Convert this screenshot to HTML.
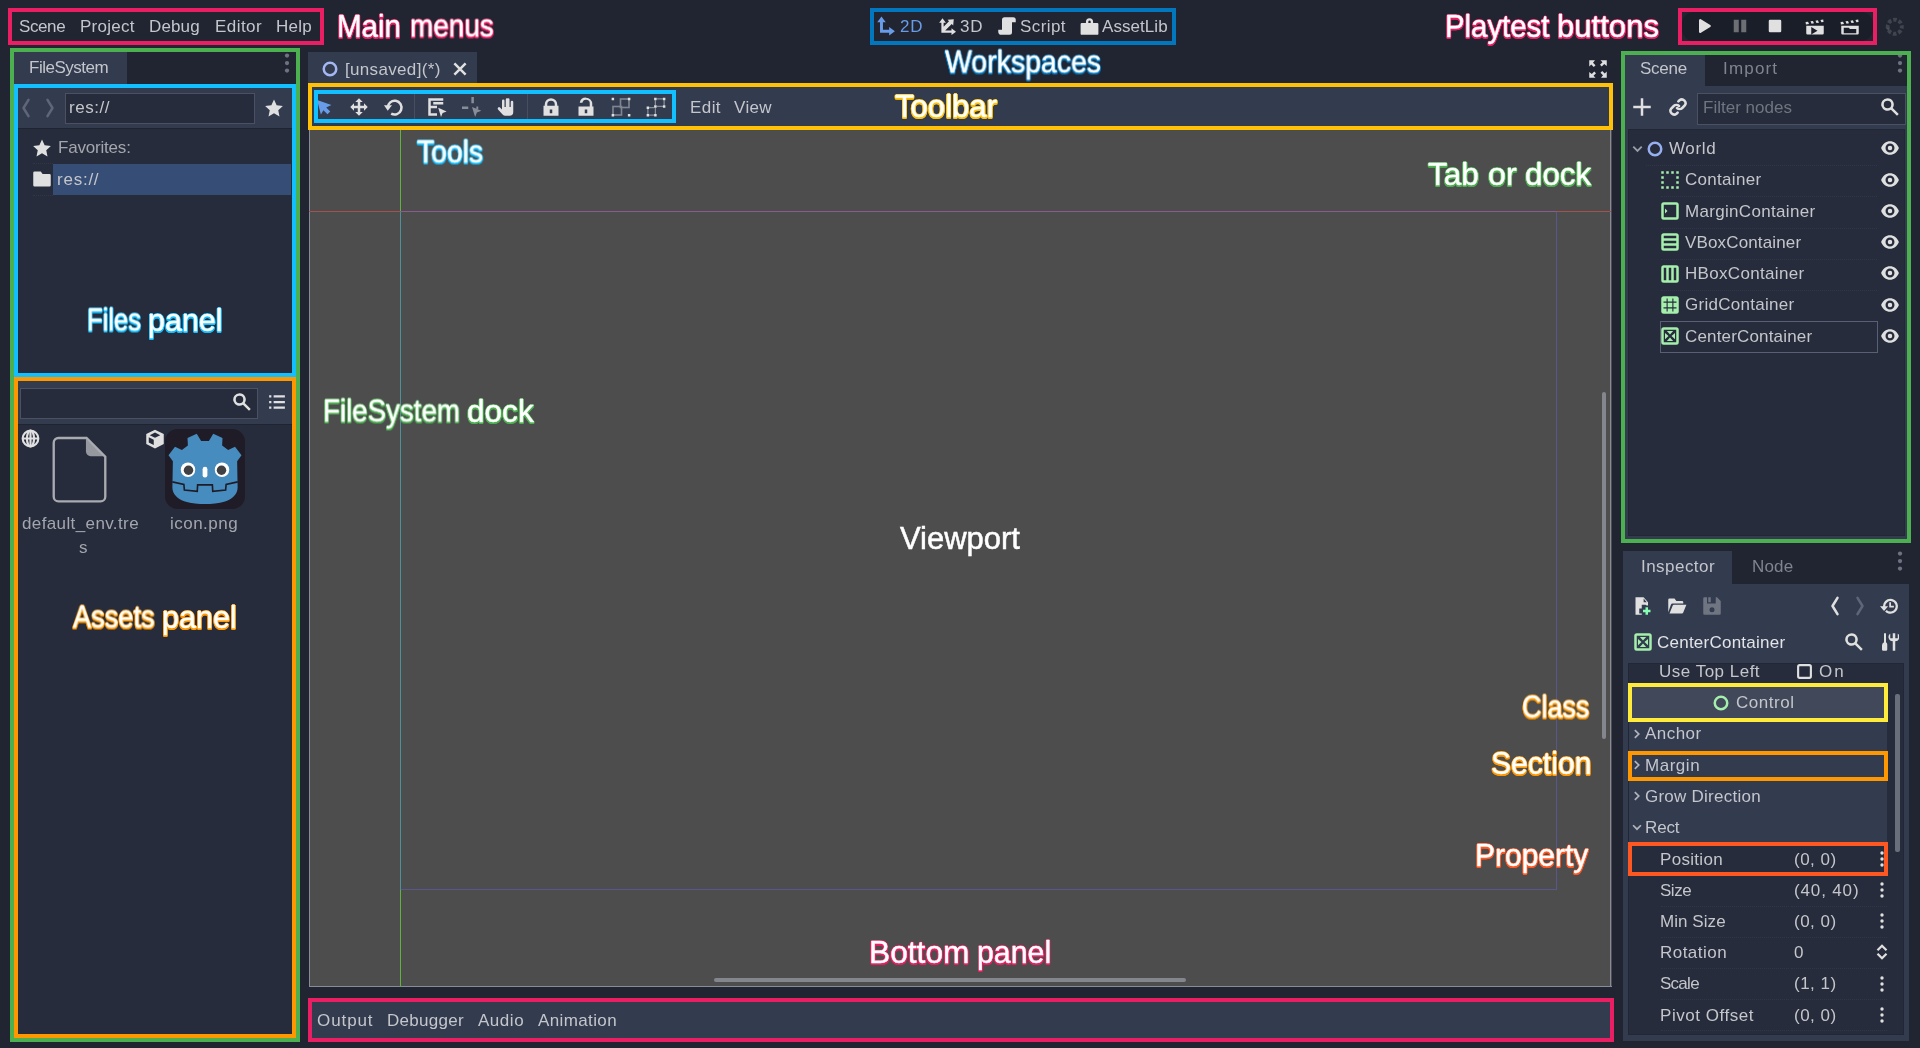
<!DOCTYPE html><html><head><meta charset="utf-8"><title>Godot editor interface</title><style>
html,body{margin:0;padding:0;background:#202531;}
body{width:1920px;height:1048px;position:relative;overflow:hidden;font-family:"Liberation Sans",sans-serif;}
body>div,body>span,body>svg{position:absolute;box-sizing:content-box;}
.tx{white-space:nowrap;display:block;will-change:transform;}
.an{transform:scaleY(1.08);}
#t1{letter-spacing:-0.401px}
#t2{letter-spacing:0.280px}
#t3{letter-spacing:0.123px}
#t4{letter-spacing:0.436px}
#t5{letter-spacing:0.210px}
#t6{transform:scale(1.0181,1.08);transform-origin:0 50%}
#t7{transform:scale(0.9627,1.08);transform-origin:0 50%}
#t8{letter-spacing:0.866px}
#t9{letter-spacing:0.866px}
#t10{letter-spacing:0.426px}
#t11{letter-spacing:0.057px}
#t12{transform:scale(0.9809,1.08);transform-origin:0 50%}
#t13{transform:scale(1.0119,1.08);transform-origin:0 50%}
#t14{transform:scale(1.0721,1.08);transform-origin:0 50%}
#t15{letter-spacing:-0.498px}
#t16{letter-spacing:0.561px}
#t17{letter-spacing:-0.193px}
#t18{letter-spacing:0.761px}
#t19{transform:scale(0.8819,1.08);transform-origin:0 50%}
#t20{transform:scale(1.0512,1.08);transform-origin:0 50%}
#t21{letter-spacing:0.384px}
#t22{letter-spacing:0.100px}
#t23{letter-spacing:0.474px}
#t24{transform:scale(0.9387,1.08);transform-origin:0 50%}
#t25{transform:scale(1.0554,1.08);transform-origin:0 50%}
#t26{letter-spacing:0.330px}
#t27{letter-spacing:0.434px}
#t28{letter-spacing:0.351px}
#t29{transform:scale(1.0723,1.08);transform-origin:0 50%}
#t30{transform:scale(0.9748,1.08);transform-origin:0 50%}
#t31{transform:scale(1.0884,1.08);transform-origin:0 50%}
#t32{transform:scale(1.1087,1.08);transform-origin:0 50%}
#t33{transform:scale(1.0789,1.08);transform-origin:0 50%}
#t34{transform:scale(0.9545,1.08);transform-origin:0 50%}
#t35{transform:scale(1.0887,1.08);transform-origin:0 50%}
#t36{letter-spacing:-0.009px}
#t37{transform:scale(0.9281,1.08);transform-origin:0 50%}
#t38{transform:scale(1.0379,1.08);transform-origin:0 50%}
#t39{transform:scale(1.0337,1.08);transform-origin:0 50%}
#t40{transform:scale(1.0939,1.08);transform-origin:0 50%}
#t41{transform:scale(1.0455,1.08);transform-origin:0 50%}
#t42{letter-spacing:0.911px}
#t43{letter-spacing:0.275px}
#t44{letter-spacing:0.529px}
#t45{letter-spacing:0.374px}
#t46{letter-spacing:-0.276px}
#t47{letter-spacing:1.182px}
#t48{letter-spacing:0.007px}
#t49{letter-spacing:0.627px}
#t50{letter-spacing:0.298px}
#t51{letter-spacing:0.315px}
#t52{letter-spacing:0.146px}
#t53{letter-spacing:0.318px}
#t54{letter-spacing:0.273px}
#t55{letter-spacing:0.168px}
#t56{letter-spacing:0.458px}
#t57{letter-spacing:0.153px}
#t58{letter-spacing:0.239px}
#t59{letter-spacing:0.496px}
#t60{letter-spacing:1.912px}
#t61{letter-spacing:0.445px}
#t62{letter-spacing:0.526px}
#t63{letter-spacing:0.244px}
#t64{letter-spacing:-0.123px}
#t65{letter-spacing:0.548px}
#t66{letter-spacing:0.302px}
#t67{letter-spacing:0.482px}
#t68{letter-spacing:-0.493px}
#t69{letter-spacing:0.858px}
#t70{letter-spacing:0.059px}
#t71{letter-spacing:0.482px}
#t72{letter-spacing:0.467px}
#t73{letter-spacing:1.131px}
#t74{letter-spacing:-0.733px}
#t75{letter-spacing:0.482px}
#t76{letter-spacing:0.549px}
#t77{letter-spacing:0.482px}
</style></head><body>
<span id="t1" class="tx " style="left:19.2px;top:15.7px;line-height:22px;font-size:17px;color:#c4c6cb;font-weight:normal;">Scene</span>
<span id="t2" class="tx " style="left:80.2px;top:15.7px;line-height:22px;font-size:17px;color:#c4c6cb;font-weight:normal;">Project</span>
<span id="t3" class="tx " style="left:149.2px;top:15.7px;line-height:22px;font-size:17px;color:#c4c6cb;font-weight:normal;">Debug</span>
<span id="t4" class="tx " style="left:215.2px;top:15.7px;line-height:22px;font-size:17px;color:#c4c6cb;font-weight:normal;">Editor</span>
<span id="t5" class="tx " style="left:276.2px;top:15.7px;line-height:22px;font-size:17px;color:#c4c6cb;font-weight:normal;">Help</span>
<div style="left:8px;top:8px;width:308px;height:29px;border:4px solid #e91e63;"></div>
<span id="t6" class="tx an" style="left:336.7px;top:7.0px;line-height:38px;font-size:29px;color:#fff;font-weight:normal;text-shadow:0 2px 0 #e91e63,0 1px 0 #e91e63,1px 1px 0 #e91e63,-1px 1px 0 #e91e63,1px 0 0 #e91e63,-1px 0 0 #e91e63,0 -1px 0 #e91e63,0.700px 1.700px 0 #e91e63,-0.700px 1.700px 0 #e91e63;-webkit-text-stroke:0.4px #fff;">Main</span>
<span id="t7" class="tx an" style="left:409.6px;top:7.0px;line-height:38px;font-size:29px;color:#fff;font-weight:normal;text-shadow:0 2px 0 #e91e63,0 1px 0 #e91e63,1px 1px 0 #e91e63,-1px 1px 0 #e91e63,1px 0 0 #e91e63,-1px 0 0 #e91e63,0 -1px 0 #e91e63,0.700px 1.700px 0 #e91e63,-0.700px 1.700px 0 #e91e63;-webkit-text-stroke:0.4px #fff;">menus</span>
<svg style="left:876.25px;top:16.25px;width:19.5px;height:19.5px;color:#699ce8;" viewBox="0 0 16 16" fill="currentColor"><path d="M4.500 0.500L1 5.200h2.300v8.500h7.500V16l4.700-3.500-4.700-3.500v2.300H5.700V5.200H8z"/></svg>
<span id="t8" class="tx " style="left:900.2px;top:15.7px;line-height:22px;font-size:17px;color:#699ce8;font-weight:normal;">2D</span>
<svg style="left:937.995px;top:16.994999999999997px;width:18.01px;height:18.01px;color:#e0e0e0;" viewBox="0 0 16 16" fill="currentColor"><path d="M4 1L1 5h2v9h9v2l4-3-4-3v2H6.400l5.800-5.800L13.500 7.500 14 2 8.500 2.500l1.300 1.300L5 8.600V5h2z"/></svg>
<span id="t9" class="tx " style="left:960.2px;top:15.7px;line-height:22px;font-size:17px;color:#c4c6cb;font-weight:normal;">3D</span>
<svg style="left:997.0px;top:16.0px;width:20px;height:20px;color:#e0e0e0;" viewBox="0 0 16 16" fill="currentColor"><path d="M6 1a2 2 0 0 0-2 2v8H1v1.500A2.500 2.500 0 0 0 3.500 15H10a2 2 0 0 0 2-2V5h3V3a2 2 0 0 0-2-2z"/></svg>
<span id="t10" class="tx " style="left:1020.2px;top:15.7px;line-height:22px;font-size:17px;color:#c4c6cb;font-weight:normal;">Script</span>
<svg style="left:1079.5px;top:16.5px;width:19px;height:19px;color:#e0e0e0;" viewBox="0 0 16 16" fill="currentColor"><path d="M8 1a3 3 0 0 0-3 3v1H1.500a1 1 0 0 0-1 1v8a1 1 0 0 0 1 1h13a1 1 0 0 0 1-1V6a1 1 0 0 0-1-1H11V4a3 3 0 0 0-3-3zm0 2a1 1 0 0 1 1 1v1H7V4a1 1 0 0 1 1-1z" fill-rule="evenodd"/></svg>
<span id="t11" class="tx " style="left:1102.2px;top:15.7px;line-height:22px;font-size:17px;color:#c4c6cb;font-weight:normal;">AssetLib</span>
<div style="left:870px;top:8px;width:298px;height:29px;border:4px solid #0277bd;"></div>
<span id="t12" class="tx an" style="left:945px;top:43.0px;line-height:38px;font-size:29px;color:#fff;font-weight:normal;text-shadow:0 2px 0 #0277bd,0 1px 0 #0277bd,1px 1px 0 #0277bd,-1px 1px 0 #0277bd,1px 0 0 #0277bd,-1px 0 0 #0277bd,0 -1px 0 #0277bd,0.700px 1.700px 0 #0277bd,-0.700px 1.700px 0 #0277bd;-webkit-text-stroke:0.4px #fff;">Workspaces</span>
<div style="left:1682px;top:12px;width:191px;height:29px;background:#1a1e28;border-radius:12px;"></div>
<svg style="left:1693.5px;top:16.3px;width:20px;height:20px;color:#e0e0e0;" viewBox="0 0 16 16" fill="currentColor"><path d="M4 12.5a1 1 0 0 0 1.5.86l7.5-4.5a1 1 0 0 0 0-1.72L5.5 2.64A1 1 0 0 0 4 3.5z"/></svg>
<svg style="left:1730.0px;top:16.3px;width:20px;height:20px;color:#e0e0e0;opacity:0.42;" viewBox="0 0 16 16" fill="currentColor"><path d="M3 3h4v10H3zm6 0h4v10H9z"/></svg>
<svg style="left:1765.0px;top:16.3px;width:20px;height:20px;color:#e0e0e0;" viewBox="0 0 16 16" fill="currentColor"><rect x="3" y="3" width="10" height="10" rx="1"/></svg>
<svg style="left:1805.0px;top:16.5px;width:20px;height:20px;color:#e0e0e0;" viewBox="0 0 16 16" fill="currentColor"><path d="M14.56 2l-2.24.33.82 1.9 1.71-.25zM10.34 2.62l-1.98.29.82 1.9 1.98-.29zM6.38 3.19l-1.98.29.82 1.9 1.98-.29zM2.42 3.77L.45 4.06l.29 1.98 2.5-.37zM1 7v6a1 1 0 0 0 1 1h12a1 1 0 0 0 1-1V7zm4 1l5 3-5 3z" fill-rule="evenodd"/></svg>
<svg style="left:1840.0px;top:16.5px;width:20px;height:20px;color:#e0e0e0;" viewBox="0 0 16 16" fill="currentColor"><path d="M14.56 2l-2.24.33.82 1.9 1.71-.25zM10.34 2.62l-1.98.29.82 1.9 1.98-.29zM6.38 3.19l-1.98.29.82 1.9 1.98-.29zM2.42 3.77L.45 4.06l.29 1.98 2.5-.37zM1 7v6a1 1 0 0 0 1 1h12a1 1 0 0 0 1-1V7zm2 1.500h4l1 1h5V13H3z" fill-rule="evenodd"/></svg>
<svg style="left:1885.05px;top:16.55px;width:19.5px;height:19.5px;color:#e0e0e0;opacity:0.22;" viewBox="0 0 16 16" fill="currentColor"><circle cx="8" cy="8" r="5.800" fill="none" stroke="currentColor" stroke-width="3.200" stroke-dasharray="2.900 1.655" stroke-dashoffset="1.450" opacity=".75"/><path d="M0.800 8.700l3.200 0.300-1.200 2.400z"/></svg>
<div style="left:1678px;top:8px;width:191px;height:29px;border:4px solid #e91e63;"></div>
<span id="t13" class="tx an" style="left:1444.6px;top:6.5px;line-height:38px;font-size:29px;color:#fff;font-weight:normal;text-shadow:0 2px 0 #e91e63,0 1px 0 #e91e63,1px 1px 0 #e91e63,-1px 1px 0 #e91e63,1px 0 0 #e91e63,-1px 0 0 #e91e63,0 -1px 0 #e91e63,0.700px 1.700px 0 #e91e63,-0.700px 1.700px 0 #e91e63;-webkit-text-stroke:0.4px #fff;">Playtest</span>
<span id="t14" class="tx an" style="left:1557px;top:6.5px;line-height:38px;font-size:29px;color:#fff;font-weight:normal;text-shadow:0 2px 0 #e91e63,0 1px 0 #e91e63,1px 1px 0 #e91e63,-1px 1px 0 #e91e63,1px 0 0 #e91e63,-1px 0 0 #e91e63,0 -1px 0 #e91e63,0.700px 1.700px 0 #e91e63,-0.700px 1.700px 0 #e91e63;-webkit-text-stroke:0.4px #fff;">buttons</span>
<div style="left:14px;top:52px;width:113px;height:32px;background:#333b4f;"></div>
<span id="t15" class="tx " style="left:29.2px;top:57.2px;line-height:22px;font-size:17px;color:#c4c6cb;font-weight:normal;">FileSystem</span>
<svg style="left:277.0px;top:52.5px;width:20px;height:20px;color:#6d7383;" viewBox="0 0 16 16" fill="currentColor"><circle cx="8" cy="2" r="1.700"/><circle cx="8" cy="8" r="1.700"/><circle cx="8" cy="14" r="1.700"/></svg>
<div style="left:18px;top:88px;width:274px;height:40px;background:#333b4f;"></div>
<div style="left:18px;top:128px;width:274px;height:246px;background:#262c3b;"></div>
<div style="left:18px;top:127.5px;width:274px;height:1px;background:#1f2431;"></div>
<svg style="left:15.5px;top:97.5px;width:20px;height:20px;color:#5f6679;" viewBox="0 0 16 16" fill="currentColor"><path d="M10 1.500L6 8l4 6.500" fill="none" stroke="currentColor" stroke-width="2" stroke-linecap="round" stroke-linejoin="round"/></svg>
<svg style="left:39.5px;top:97.5px;width:20px;height:20px;color:#5f6679;" viewBox="0 0 16 16" fill="currentColor"><path d="M6 1.500L10 8l-4 6.500" fill="none" stroke="currentColor" stroke-width="2" stroke-linecap="round" stroke-linejoin="round"/></svg>
<div style="left:65px;top:92.5px;width:188px;height:29px;background:#262c3b;border:1px solid #4b5163;"></div>
<span id="t16" class="tx " style="left:69.2px;top:97.2px;line-height:22px;font-size:17px;color:#c4c6cb;font-weight:normal;">res://</span>
<svg style="left:264.0px;top:97.5px;width:20px;height:20px;color:#e0e0e0;" viewBox="0 0 16 16" fill="currentColor"><path d="M8 1.2l2.1 4.6 5 .6-3.7 3.4 1 4.9L8 12.2l-4.4 2.5 1-4.9L.9 6.4l5-.6z"/></svg>
<svg style="left:31.700000000000003px;top:137.5px;width:20px;height:20px;color:#e0e0e0;" viewBox="0 0 16 16" fill="currentColor"><path d="M8 1.2l2.1 4.6 5 .6-3.7 3.4 1 4.9L8 12.2l-4.4 2.5 1-4.9L.9 6.4l5-.6z"/></svg>
<span id="t17" class="tx " style="left:57.900000000000006px;top:137.2px;line-height:22px;font-size:17px;color:#a3a6ae;font-weight:normal;">Favorites:</span>
<div style="left:52.5px;top:164px;width:238px;height:30.5px;background:#364d75;"></div>
<div style="left:33px;top:163px;width:20px;height:0px;border-top:1px dotted #30364a;"></div>
<div style="left:33px;top:194.5px;width:20px;height:0px;border-top:1px dotted #30364a;"></div>
<svg style="left:31.700000000000003px;top:169.3px;width:20px;height:20px;color:#e0e0e0;" viewBox="0 0 16 16" fill="currentColor"><path d="M2 2a1 1 0 0 0-1 1v10a1 1 0 0 0 1 1h12a1 1 0 0 0 1-1V5a1 1 0 0 0-1-1H8.5L7 2z"/></svg>
<span id="t18" class="tx " style="left:56.5px;top:169.0px;line-height:22px;font-size:17px;color:#c4c6cb;font-weight:normal;">res://</span>
<div style="left:14px;top:84px;width:274px;height:285px;border:4px solid #12bfff;"></div>
<span id="t19" class="tx an" style="left:87px;top:300.5px;line-height:38px;font-size:29px;color:#fff;font-weight:normal;text-shadow:0 2px 0 #12bfff,0 1px 0 #12bfff,1px 1px 0 #12bfff,-1px 1px 0 #12bfff,1px 0 0 #12bfff,-1px 0 0 #12bfff,0 -1px 0 #12bfff,0.700px 1.700px 0 #12bfff,-0.700px 1.700px 0 #12bfff;-webkit-text-stroke:0.4px #fff;">Files</span>
<span id="t20" class="tx an" style="left:148.4px;top:300.5px;line-height:38px;font-size:29px;color:#fff;font-weight:normal;text-shadow:0 2px 0 #12bfff,0 1px 0 #12bfff,1px 1px 0 #12bfff,-1px 1px 0 #12bfff,1px 0 0 #12bfff,-1px 0 0 #12bfff,0 -1px 0 #12bfff,0.700px 1.700px 0 #12bfff,-0.700px 1.700px 0 #12bfff;-webkit-text-stroke:0.4px #fff;">panel</span>
<div style="left:18px;top:381px;width:274px;height:43px;background:#333b4f;"></div>
<div style="left:18px;top:424px;width:274px;height:610px;background:#262c3b;"></div>
<div style="left:18px;top:424px;width:274px;height:1px;background:#1f2431;"></div>
<div style="left:20px;top:387.5px;width:236px;height:29px;background:#262c3b;border:1px solid #4b5163;"></div>
<svg style="left:232.3px;top:392.0px;width:20px;height:20px;color:#e0e0e0;" viewBox="0 0 16 16" fill="currentColor"><path d="M6 1a5 5 0 1 0 2.75 9.17L13.6 15 15 13.6l-4.83-4.85A5 5 0 0 0 6 1zm0 2a3 3 0 1 1 0 6 3 3 0 0 1 0-6z" fill-rule="evenodd"/></svg>
<svg style="left:267.995px;top:393.495px;width:18.01px;height:18.01px;color:#e0e0e0;" viewBox="0 0 16 16" fill="currentColor"><path d="M1 2v2h2V2zm4 0v2h10V2zM1 7v2h2V7zm4 0v2h10V7zM1 12v2h2v-2zm4 0v2h10v-2z"/></svg>
<svg style="left:20.5px;top:429.0px;width:19px;height:19px;color:#e0e0e0;" viewBox="0 0 16 16" fill="currentColor"><g fill="none" stroke="currentColor" stroke-width="1.800"><circle cx="8" cy="8" r="6.600"/><ellipse cx="8" cy="8" rx="3" ry="6.600"/><path d="M1.400 8h13.200M8 1.400v13.200"/></g></svg>
<svg style="left:42.3px;top:430.7px;width:75px;height:75px;color:#a9abb0;" viewBox="0 0 64 64" fill="currentColor"><path d="M14 6h24l16 16v34a4 4 0 0 1-4 4H14a4 4 0 0 1-4-4V10a4 4 0 0 1 4-4z" fill="none" stroke="currentColor" stroke-width="2"/><path d="M37.500 6.500v11a4 4 0 0 0 4 4h12z" fill="currentColor" opacity=".85"/></svg>
<svg style="left:145.0px;top:428.5px;width:20px;height:20px;color:#e0e0e0;" viewBox="0 0 16 16" fill="currentColor"><path d="M8 0.500L1 4v8l7 3.500 7-3.500V4zM8 2.800l4.200 2.100L8 7 3.800 4.900zM3 6.600l4 2v4.200l-4-2z" fill-rule="evenodd"/></svg>
<svg style="left:165.0px;top:429.0px;width:80px;height:80px;color:#e0e0e0;" viewBox="0 0 64 64" fill="currentColor"><rect width="64" height="64" rx="10" fill="#1f1c27"/>
<path d="M25.400 3.800L28.900 9.600H35.100L38.600 3.800 46 7.200 45.700 13.100 50.500 16.800 56 14.100 61.200 21 57.700 25.800 58.100 47C58 52 54 56 48 58 43 59.600 37 60 32 60S21 59.600 16 58C10 56 6 52 5.900 47L6.300 25.800 2.800 21 8 14.100 13.500 16.800 18.300 13.100 18 7.200z" fill="#478cbf"/>
<path d="M5.800 42.300L15.100 44.300 15.500 48.800 25.800 49.800 26.100 44.700H37.900L38.200 49.800 48.500 48.800 48.900 44.300 58.200 42.300" fill="none" stroke="#1f1c27" stroke-width="1.3"/>
<circle cx="18.400" cy="32.600" r="5.800" fill="#fff"/><circle cx="18.800" cy="33" r="3.800" fill="#414042"/>
<circle cx="45.600" cy="32.600" r="5.800" fill="#fff"/><circle cx="45.200" cy="33" r="3.800" fill="#414042"/>
<rect x="30.100" y="30.200" width="3.800" height="8.600" rx="1.900" fill="#fff"/></svg>
<span id="t21" class="tx " style="left:22.2px;top:512.7px;line-height:22px;font-size:17px;color:#a3a6ae;font-weight:normal;">default_env.tre</span>
<span id="t22" class="tx " style="left:79.2px;top:536.7px;line-height:22px;font-size:17px;color:#a3a6ae;font-weight:normal;">s</span>
<span id="t23" class="tx " style="left:170.2px;top:512.7px;line-height:22px;font-size:17px;color:#a3a6ae;font-weight:normal;">icon.png</span>
<div style="left:14px;top:377px;width:274px;height:653px;border:4px solid #ff9800;"></div>
<div style="left:10px;top:48px;width:282px;height:986px;border:4px solid #4caf50;"></div>
<span id="t24" class="tx an" style="left:73px;top:597.5px;line-height:38px;font-size:29px;color:#fff;font-weight:normal;text-shadow:0 2px 0 #ff9800,0 1px 0 #ff9800,1px 1px 0 #ff9800,-1px 1px 0 #ff9800,1px 0 0 #ff9800,-1px 0 0 #ff9800,0 -1px 0 #ff9800,0.700px 1.700px 0 #ff9800,-0.700px 1.700px 0 #ff9800;-webkit-text-stroke:0.4px #fff;">Assets</span>
<span id="t25" class="tx an" style="left:161.6px;top:597.5px;line-height:38px;font-size:29px;color:#fff;font-weight:normal;text-shadow:0 2px 0 #ff9800,0 1px 0 #ff9800,1px 1px 0 #ff9800,-1px 1px 0 #ff9800,1px 0 0 #ff9800,-1px 0 0 #ff9800,0 -1px 0 #ff9800,0.700px 1.700px 0 #ff9800,-0.700px 1.700px 0 #ff9800;-webkit-text-stroke:0.4px #fff;">panel</span>
<div style="left:308px;top:52px;width:169px;height:31px;background:#333b4f;"></div>
<svg style="left:320.0px;top:59.0px;width:20px;height:20px;color:#a5b7f3;" viewBox="0 0 16 16" fill="currentColor"><circle cx="8" cy="8" r="5" fill="none" stroke="currentColor" stroke-width="2"/></svg>
<span id="t26" class="tx " style="left:344.5px;top:58.7px;line-height:22px;font-size:17px;color:#c4c6cb;font-weight:normal;">[unsaved](*)</span>
<svg style="left:450.695px;top:59.995px;width:18.01px;height:18.01px;color:#e0e0e0;" viewBox="0 0 16 16" fill="currentColor"><path d="M3 3l10 10M13 3L3 13" fill="none" stroke="currentColor" stroke-width="2.2"/></svg>
<svg style="left:1587.5px;top:59.0px;width:20px;height:20px;color:#e0e0e0;" viewBox="0 0 16 16" fill="currentColor"><path d="M1 1v5l1.6-1.6 2 2L6 5 4 3l1.6-2zM15 1h-5l1.6 1.6-2 2L11 6l2-2 2 1.6zM1 15h5l-1.6-1.6 2-2L5 10l-2 2-2-1.6zM15 15v-5l-1.6 1.6-2-2L10 11l2 2-1.6 2z"/></svg>
<div style="left:312px;top:87px;width:1297px;height:39px;background:#333b4f;"></div>
<div style="left:309px;top:130px;width:1302.5px;height:857.3px;background:#4d4d4d;"></div>
<div style="left:309px;top:130px;width:1px;height:857px;background:#868b97;"></div>
<div style="left:309px;top:986px;width:1302.5px;height:1.3px;background:#868b97;"></div>
<div style="left:1610.4px;top:130px;width:1.1px;height:857.3px;background:#868b97;"></div>
<div style="left:400px;top:130px;width:1.4px;height:857px;background:#62b33c;"></div>
<div style="left:309px;top:211px;width:91px;height:1px;background:#a3524f;"></div>
<div style="left:400px;top:211px;width:1156px;height:1px;background:#8b5a8f;"></div>
<div style="left:1556px;top:211px;width:55px;height:1px;background:#a3524f;"></div>
<div style="left:400px;top:212px;width:1px;height:678px;background:#4f8f9a;"></div>
<div style="left:401px;top:889px;width:1156px;height:1px;background:#57578c;"></div>
<div style="left:1555.5px;top:212px;width:1px;height:678px;background:#57578c;"></div>
<div style="left:714px;top:977.5px;width:472px;height:4px;background:#83868c;border-radius:2px;"></div>
<div style="left:1601.5px;top:392px;width:4.5px;height:347px;background:#83868c;border-radius:2px;"></div>
<svg style="left:316.0px;top:99.0px;width:17px;height:17px;color:#699ce8;" viewBox="0 0 16 16" fill="currentColor"><path d="M1 1l3.600 13.500 2.400-3.900 3.800 3.800 2.600-2.600-3.800-3.800L14.500 5.600z"/></svg>
<svg style="left:348.5px;top:97.0px;width:20px;height:20px;color:#e0e0e0;" viewBox="0 0 16 16" fill="currentColor"><path d="M8 1L5 4h2v3H4V5L1 8l3 3V9h3v3H5l3 3 3-3H9V9h3v2l3-3-3-3v2H9V4h2z"/></svg>
<svg style="left:384.0px;top:97.0px;width:20px;height:20px;color:#e0e0e0;" viewBox="0 0 16 16" fill="currentColor"><path d="M3 8.500a5.500 5.500 0 1 1 2.750 4.760" fill="none" stroke="currentColor" stroke-width="2"/><path d="M0 6.500L3 11l3.400-4.500z"/></svg>
<div style="left:414px;top:94px;width:1px;height:27px;background:#474e61;"></div>
<svg style="left:427.0px;top:97.0px;width:20px;height:20px;color:#e0e0e0;" viewBox="0 0 16 16" fill="currentColor"><path d="M1 1v14h7v-2H3V9h5V7H3V3h10V1zM5 4v2h8V4z" fill-rule="evenodd"/><path d="M9 8.500l2.200 7.500 1.300-3.200 3.200-1.300z"/></svg>
<svg style="left:462.0px;top:97.0px;width:20px;height:20px;color:#e0e0e0;" viewBox="0 0 16 16" fill="currentColor"><path d="M7.500 0v5h2V0zM0 7.500v2h5v-2zm11.500 0v2h1.500v-2z" opacity=".5"/><path d="M8 8l2.500 8 1.400-3.600 3.600-1.400z" opacity=".5"/></svg>
<svg style="left:497.0px;top:97.0px;width:20px;height:20px;color:#e0e0e0;" viewBox="0 0 16 16" fill="currentColor"><path d="M8 1a1 1 0 0 0-1 1v6H6V3a1 1 0 0 0-2 0v7l-1.6-1.6a1.1 1.1 0 0 0-1.6 1.5L4.5 14a3 3 0 0 0 2.3 1H10a3 3 0 0 0 3-3V4a1 1 0 0 0-2 0v4h-1V2a1 1 0 0 0-2 0v6H9V2a1 1 0 0 0-1-1z"/></svg>
<div style="left:527px;top:94px;width:1px;height:27px;background:#474e61;"></div>
<svg style="left:540.5px;top:97.0px;width:20px;height:20px;color:#e0e0e0;" viewBox="0 0 16 16" fill="currentColor"><path d="M8 1a5 5 0 0 0-5 5v1H2v8h12V7h-1V6a5 5 0 0 0-5-5zm0 2a3 3 0 0 1 3 3v1H5V6a3 3 0 0 1 3-3zM7 10h2v3H7z" fill-rule="evenodd"/></svg>
<svg style="left:575.5px;top:97.0px;width:20px;height:20px;color:#e0e0e0;" viewBox="0 0 16 16" fill="currentColor"><path d="M8 0.500a5 5 0 0 0-5 4h2.100A3 3 0 0 1 11 5.500v2H2V15h12V7.500h-1v-2a5 5 0 0 0-5-5zM7 10h2v3H7z" fill-rule="evenodd"/></svg>
<svg style="left:611.0px;top:97.0px;width:20px;height:20px;color:#e0e0e0;" viewBox="0 0 16 16" fill="currentColor"><path d="M0.500 0.500h2v2h-2zM13.500 0.500h2v2h-2zM0.500 13.500h2v2h-2zM13.500 13.500h2v2h-2z"/><g fill="none" stroke="currentColor" stroke-width="1.300" opacity=".45"><rect x="7.600" y="1.600" width="6.800" height="6.800"/><rect x="1.600" y="7.600" width="6.800" height="6.800"/></g></svg>
<svg style="left:646.0px;top:97.0px;width:20px;height:20px;color:#e0e0e0;" viewBox="0 0 16 16" fill="currentColor"><path d="M6.500 0.500h2v2h-2zM13.500 0.500h2v2h-2zM13.500 6.500h2v2h-2zM6.500 6.500h2v2h-2zM0.500 7.500h2v2h-2zM0.500 13.500h2v2h-2zM6.500 13.500h2v2h-2z"/><path d="M8.500 1h5v1h-5zM7 2.500h1v4H7zM14 2.500h1v4h-1zM8.500 7h5v1h-5zM2.500 8h4v1h-4zM1 9.500h1v4H1zM7 8.500h1v5H7zM2.500 14h4v1h-4z" opacity=".5"/></svg>
<div style="left:314px;top:90px;width:354px;height:25px;border:4px solid #12bfff;"></div>
<span id="t27" class="tx " style="left:690.2px;top:96.7px;line-height:22px;font-size:17px;color:#c4c6cb;font-weight:normal;">Edit</span>
<span id="t28" class="tx " style="left:734.2px;top:96.7px;line-height:22px;font-size:17px;color:#c4c6cb;font-weight:normal;">View</span>
<div style="left:308px;top:83px;width:1297px;height:39px;border:4px solid #ffc107;"></div>
<span id="t29" class="tx an" style="left:895px;top:87.0px;line-height:38px;font-size:29px;color:#fff;font-weight:normal;text-shadow:0 2px 0 #ffc107,0 1px 0 #ffc107,1px 1px 0 #ffc107,-1px 1px 0 #ffc107,1px 0 0 #ffc107,-1px 0 0 #ffc107,0 -1px 0 #ffc107,0.700px 1.700px 0 #ffc107,-0.700px 1.700px 0 #ffc107;-webkit-text-stroke:0.4px #fff;">Toolbar</span>
<span id="t30" class="tx an" style="left:417px;top:133.0px;line-height:38px;font-size:29px;color:#fff;font-weight:normal;text-shadow:0 2px 0 #12bfff,0 1px 0 #12bfff,1px 1px 0 #12bfff,-1px 1px 0 #12bfff,1px 0 0 #12bfff,-1px 0 0 #12bfff,0 -1px 0 #12bfff,0.700px 1.700px 0 #12bfff,-0.700px 1.700px 0 #12bfff;-webkit-text-stroke:0.4px #fff;">Tools</span>
<span id="t31" class="tx an" style="left:1428.3px;top:154.5px;line-height:38px;font-size:29px;color:#fff;font-weight:normal;text-shadow:0 2px 0 #4caf50,0 1px 0 #4caf50,1px 1px 0 #4caf50,-1px 1px 0 #4caf50,1px 0 0 #4caf50,-1px 0 0 #4caf50,0 -1px 0 #4caf50,0.700px 1.700px 0 #4caf50,-0.700px 1.700px 0 #4caf50;-webkit-text-stroke:0.4px #fff;">Tab</span>
<span id="t32" class="tx an" style="left:1487.6px;top:154.5px;line-height:38px;font-size:29px;color:#fff;font-weight:normal;text-shadow:0 2px 0 #4caf50,0 1px 0 #4caf50,1px 1px 0 #4caf50,-1px 1px 0 #4caf50,1px 0 0 #4caf50,-1px 0 0 #4caf50,0 -1px 0 #4caf50,0.700px 1.700px 0 #4caf50,-0.700px 1.700px 0 #4caf50;-webkit-text-stroke:0.4px #fff;">or</span>
<span id="t33" class="tx an" style="left:1524.6px;top:154.5px;line-height:38px;font-size:29px;color:#fff;font-weight:normal;text-shadow:0 2px 0 #4caf50,0 1px 0 #4caf50,1px 1px 0 #4caf50,-1px 1px 0 #4caf50,1px 0 0 #4caf50,-1px 0 0 #4caf50,0 -1px 0 #4caf50,0.700px 1.700px 0 #4caf50,-0.700px 1.700px 0 #4caf50;-webkit-text-stroke:0.4px #fff;">dock</span>
<span id="t34" class="tx an" style="left:322.7px;top:391.5px;line-height:38px;font-size:29px;color:#fff;font-weight:normal;text-shadow:0 2px 0 #4caf50,0 1px 0 #4caf50,1px 1px 0 #4caf50,-1px 1px 0 #4caf50,1px 0 0 #4caf50,-1px 0 0 #4caf50,0 -1px 0 #4caf50,0.700px 1.700px 0 #4caf50,-0.700px 1.700px 0 #4caf50;-webkit-text-stroke:0.4px #fff;">FileSystem</span>
<span id="t35" class="tx an" style="left:467px;top:391.5px;line-height:38px;font-size:29px;color:#fff;font-weight:normal;text-shadow:0 2px 0 #4caf50,0 1px 0 #4caf50,1px 1px 0 #4caf50,-1px 1px 0 #4caf50,1px 0 0 #4caf50,-1px 0 0 #4caf50,0 -1px 0 #4caf50,0.700px 1.700px 0 #4caf50,-0.700px 1.700px 0 #4caf50;-webkit-text-stroke:0.4px #fff;">dock</span>
<span id="t36" class="tx " style="left:900px;top:518.5px;line-height:40px;font-size:31px;color:#fff;font-weight:normal;-webkit-text-stroke:0.5px #fff;">Viewport</span>
<span id="t37" class="tx an" style="left:1522px;top:687.5px;line-height:38px;font-size:29px;color:#fff;font-weight:normal;text-shadow:0 2px 0 #ff9800,0 1px 0 #ff9800,1px 1px 0 #ff9800,-1px 1px 0 #ff9800,1px 0 0 #ff9800,-1px 0 0 #ff9800,0 -1px 0 #ff9800,0.700px 1.700px 0 #ff9800,-0.700px 1.700px 0 #ff9800;-webkit-text-stroke:0.4px #fff;">Class</span>
<span id="t38" class="tx an" style="left:1491px;top:744.0px;line-height:38px;font-size:29px;color:#fff;font-weight:normal;text-shadow:0 2px 0 #ff9800,0 1px 0 #ff9800,1px 1px 0 #ff9800,-1px 1px 0 #ff9800,1px 0 0 #ff9800,-1px 0 0 #ff9800,0 -1px 0 #ff9800,0.700px 1.700px 0 #ff9800,-0.700px 1.700px 0 #ff9800;-webkit-text-stroke:0.4px #fff;">Section</span>
<span id="t39" class="tx an" style="left:1475.2px;top:836.0px;line-height:38px;font-size:29px;color:#fff;font-weight:normal;text-shadow:0 2px 0 #ff5722,0 1px 0 #ff5722,1px 1px 0 #ff5722,-1px 1px 0 #ff5722,1px 0 0 #ff5722,-1px 0 0 #ff5722,0 -1px 0 #ff5722,0.700px 1.700px 0 #ff5722,-0.700px 1.700px 0 #ff5722;-webkit-text-stroke:0.4px #fff;">Property</span>
<span id="t40" class="tx an" style="left:868.5px;top:932.5px;line-height:38px;font-size:29px;color:#fff;font-weight:normal;text-shadow:0 2px 0 #e91e63,0 1px 0 #e91e63,1px 1px 0 #e91e63,-1px 1px 0 #e91e63,1px 0 0 #e91e63,-1px 0 0 #e91e63,0 -1px 0 #e91e63,0.700px 1.700px 0 #e91e63,-0.700px 1.700px 0 #e91e63;-webkit-text-stroke:0.4px #fff;">Bottom</span>
<span id="t41" class="tx an" style="left:977.3px;top:932.5px;line-height:38px;font-size:29px;color:#fff;font-weight:normal;text-shadow:0 2px 0 #e91e63,0 1px 0 #e91e63,1px 1px 0 #e91e63,-1px 1px 0 #e91e63,1px 0 0 #e91e63,-1px 0 0 #e91e63,0 -1px 0 #e91e63,0.700px 1.700px 0 #e91e63,-0.700px 1.700px 0 #e91e63;-webkit-text-stroke:0.4px #fff;">panel</span>
<div style="left:312px;top:1002px;width:1298px;height:36px;background:#333b4f;"></div>
<span id="t42" class="tx " style="left:317.2px;top:1009.7px;line-height:22px;font-size:17px;color:#c4c6cb;font-weight:normal;">Output</span>
<span id="t43" class="tx " style="left:387.2px;top:1009.7px;line-height:22px;font-size:17px;color:#c4c6cb;font-weight:normal;">Debugger</span>
<span id="t44" class="tx " style="left:478.2px;top:1009.7px;line-height:22px;font-size:17px;color:#c4c6cb;font-weight:normal;">Audio</span>
<span id="t45" class="tx " style="left:538.2px;top:1009.7px;line-height:22px;font-size:17px;color:#c4c6cb;font-weight:normal;">Animation</span>
<div style="left:308px;top:998px;width:1298px;height:36px;border:4px solid #e91e63;"></div>
<div style="left:1625px;top:55px;width:80px;height:31px;background:#333b4f;"></div>
<div style="left:1625px;top:86px;width:282px;height:453px;background:#333b4f;"></div>
<span id="t46" class="tx " style="left:1640.2px;top:57.5px;line-height:22px;font-size:17px;color:#c4c6cb;font-weight:normal;">Scene</span>
<span id="t47" class="tx " style="left:1723.2px;top:57.5px;line-height:22px;font-size:17px;color:#7f8490;font-weight:normal;">Import</span>
<svg style="left:1890.0px;top:52.5px;width:20px;height:20px;color:#6d7383;" viewBox="0 0 16 16" fill="currentColor"><circle cx="8" cy="2" r="1.700"/><circle cx="8" cy="8" r="1.700"/><circle cx="8" cy="14" r="1.700"/></svg>
<svg style="left:1632.0px;top:97.0px;width:20px;height:20px;color:#e0e0e0;" viewBox="0 0 16 16" fill="currentColor"><path d="M7 1v6H1v2h6v6h2V9h6V7H9V1z"/></svg>
<svg style="left:1667.5px;top:97.0px;width:20px;height:20px;color:#e0e0e0;" viewBox="0 0 16 16" fill="currentColor"><g fill="none" stroke="currentColor" stroke-width="2" stroke-linecap="round"><path d="M7.2 8.8a3 3 0 0 0 4.2 0l2-2a3 3 0 0 0-4.2-4.2l-.9.9"/><path d="M8.8 7.2a3 3 0 0 0-4.2 0l-2 2a3 3 0 0 0 4.2 4.2l.9-.9"/></g></svg>
<div style="left:1697px;top:92.5px;width:207px;height:30px;background:#262c3b;border:1px solid #4b5163;"></div>
<span id="t48" class="tx " style="left:1702.9px;top:97.2px;line-height:22px;font-size:17px;color:#70757f;font-weight:normal;">Filter nodes</span>
<svg style="left:1879.6px;top:97.0px;width:20px;height:20px;color:#e0e0e0;" viewBox="0 0 16 16" fill="currentColor"><path d="M6 1a5 5 0 1 0 2.75 9.17L13.6 15 15 13.6l-4.83-4.85A5 5 0 0 0 6 1zm0 2a3 3 0 1 1 0 6 3 3 0 0 1 0-6z" fill-rule="evenodd"/></svg>
<div style="left:1628px;top:129px;width:275px;height:405px;background:#262c3b;border:1px solid #222736;"></div>
<svg style="left:1629.5px;top:141.0px;width:15px;height:15px;color:#9a9ea8;" viewBox="0 0 16 16" fill="currentColor"><path d="M3.500 6L8 10.500 12.500 6" fill="none" stroke="currentColor" stroke-width="2"/></svg>
<svg style="left:1645.0px;top:138.5px;width:20px;height:20px;color:#96aff0;" viewBox="0 0 16 16" fill="currentColor"><circle cx="8" cy="8" r="5" fill="none" stroke="currentColor" stroke-width="2"/></svg>
<span id="t49" class="tx " style="left:1669.2px;top:138.2px;line-height:22px;font-size:17px;color:#c4c6cb;font-weight:normal;">World</span>
<svg style="left:1880.7949999999998px;top:139.495px;width:18.01px;height:18.01px;color:#e0e0e0;" viewBox="0 0 16 16" fill="currentColor"><path d="M8 2C4.5 2 1.5 4.3.1 8c1.4 3.7 4.4 6 7.9 6s6.5-2.3 7.9-6C14.5 4.3 11.5 2 8 2zm0 2a4 4 0 1 1 0 8 4 4 0 0 1 0-8zm0 2a2 2 0 1 0 0 4 2 2 0 0 0 0-4z" fill-rule="evenodd"/></svg>
<div style="left:1646px;top:165.1px;width:231px;height:0px;border-top:1px dotted #30364a;"></div>
<svg style="left:1660.0px;top:169.75px;width:20px;height:20px;color:#a5efac;" viewBox="0 0 16 16" fill="currentColor"><rect x="2" y="2" width="12" height="12" fill="none" stroke="currentColor" stroke-width="2" stroke-dasharray="2 2" stroke-dashoffset="1"/></svg>
<span id="t50" class="tx " style="left:1684.7px;top:169.45px;line-height:22px;font-size:17px;color:#c4c6cb;font-weight:normal;">Container</span>
<svg style="left:1880.7949999999998px;top:170.745px;width:18.01px;height:18.01px;color:#e0e0e0;" viewBox="0 0 16 16" fill="currentColor"><path d="M8 2C4.5 2 1.5 4.3.1 8c1.4 3.7 4.4 6 7.9 6s6.5-2.3 7.9-6C14.5 4.3 11.5 2 8 2zm0 2a4 4 0 1 1 0 8 4 4 0 0 1 0-8zm0 2a2 2 0 1 0 0 4 2 2 0 0 0 0-4z" fill-rule="evenodd"/></svg>
<div style="left:1661px;top:196.35px;width:216px;height:0px;border-top:1px dotted #30364a;"></div>
<svg style="left:1660.0px;top:201.0px;width:20px;height:20px;color:#a5efac;" viewBox="0 0 16 16" fill="currentColor"><path d="M3 1a2 2 0 0 0-2 2v10a2 2 0 0 0 2 2h10a2 2 0 0 0 2-2V3a2 2 0 0 0-2-2zm0 2h10v10H3zm1 3v4l2-2z" fill-rule="evenodd"/></svg>
<span id="t51" class="tx " style="left:1684.7px;top:200.7px;line-height:22px;font-size:17px;color:#c4c6cb;font-weight:normal;">MarginContainer</span>
<svg style="left:1880.7949999999998px;top:201.995px;width:18.01px;height:18.01px;color:#e0e0e0;" viewBox="0 0 16 16" fill="currentColor"><path d="M8 2C4.5 2 1.5 4.3.1 8c1.4 3.7 4.4 6 7.9 6s6.5-2.3 7.9-6C14.5 4.3 11.5 2 8 2zm0 2a4 4 0 1 1 0 8 4 4 0 0 1 0-8zm0 2a2 2 0 1 0 0 4 2 2 0 0 0 0-4z" fill-rule="evenodd"/></svg>
<div style="left:1661px;top:227.6px;width:216px;height:0px;border-top:1px dotted #30364a;"></div>
<svg style="left:1660.0px;top:232.25px;width:20px;height:20px;color:#a5efac;" viewBox="0 0 16 16" fill="currentColor"><path d="M3 1a2 2 0 0 0-2 2v10a2 2 0 0 0 2 2h10a2 2 0 0 0 2-2V3a2 2 0 0 0-2-2zm0 2h10v2H3zm0 4h10v2H3zm0 4h10v2H3z" fill-rule="evenodd"/></svg>
<span id="t52" class="tx " style="left:1684.7px;top:231.95px;line-height:22px;font-size:17px;color:#c4c6cb;font-weight:normal;">VBoxContainer</span>
<svg style="left:1880.7949999999998px;top:233.245px;width:18.01px;height:18.01px;color:#e0e0e0;" viewBox="0 0 16 16" fill="currentColor"><path d="M8 2C4.5 2 1.5 4.3.1 8c1.4 3.7 4.4 6 7.9 6s6.5-2.3 7.9-6C14.5 4.3 11.5 2 8 2zm0 2a4 4 0 1 1 0 8 4 4 0 0 1 0-8zm0 2a2 2 0 1 0 0 4 2 2 0 0 0 0-4z" fill-rule="evenodd"/></svg>
<div style="left:1661px;top:258.85px;width:216px;height:0px;border-top:1px dotted #30364a;"></div>
<svg style="left:1660.0px;top:263.5px;width:20px;height:20px;color:#a5efac;" viewBox="0 0 16 16" fill="currentColor"><path d="M3 1a2 2 0 0 0-2 2v10a2 2 0 0 0 2 2h10a2 2 0 0 0 2-2V3a2 2 0 0 0-2-2zm0 2h2v10H3zm4 0h2v10H7zm4 0h2v10h-2z" fill-rule="evenodd"/></svg>
<span id="t53" class="tx " style="left:1684.7px;top:263.2px;line-height:22px;font-size:17px;color:#c4c6cb;font-weight:normal;">HBoxContainer</span>
<svg style="left:1880.7949999999998px;top:264.495px;width:18.01px;height:18.01px;color:#e0e0e0;" viewBox="0 0 16 16" fill="currentColor"><path d="M8 2C4.5 2 1.5 4.3.1 8c1.4 3.7 4.4 6 7.9 6s6.5-2.3 7.9-6C14.5 4.3 11.5 2 8 2zm0 2a4 4 0 1 1 0 8 4 4 0 0 1 0-8zm0 2a2 2 0 1 0 0 4 2 2 0 0 0 0-4z" fill-rule="evenodd"/></svg>
<div style="left:1661px;top:290.1px;width:216px;height:0px;border-top:1px dotted #30364a;"></div>
<svg style="left:1660.0px;top:294.75px;width:20px;height:20px;color:#a5efac;" viewBox="0 0 16 16" fill="currentColor"><rect x="1" y="1" width="14" height="14" rx="2"/><path d="M5.700 2.800v10.400M10.300 2.800v10.400M2.800 5.700h10.400M2.800 10.300h10.400" fill="none" stroke="#262c3b" stroke-width="0.900"/></svg>
<span id="t54" class="tx " style="left:1684.7px;top:294.45px;line-height:22px;font-size:17px;color:#c4c6cb;font-weight:normal;">GridContainer</span>
<svg style="left:1880.7949999999998px;top:295.745px;width:18.01px;height:18.01px;color:#e0e0e0;" viewBox="0 0 16 16" fill="currentColor"><path d="M8 2C4.5 2 1.5 4.3.1 8c1.4 3.7 4.4 6 7.9 6s6.5-2.3 7.9-6C14.5 4.3 11.5 2 8 2zm0 2a4 4 0 1 1 0 8 4 4 0 0 1 0-8zm0 2a2 2 0 1 0 0 4 2 2 0 0 0 0-4z" fill-rule="evenodd"/></svg>
<div style="left:1661px;top:321.35px;width:216px;height:0px;border-top:1px dotted #30364a;"></div>
<svg style="left:1660.0px;top:326.0px;width:20px;height:20px;color:#a5efac;" viewBox="0 0 16 16" fill="currentColor"><path d="M3 1a2 2 0 0 0-2 2v10a2 2 0 0 0 2 2h10a2 2 0 0 0 2-2V3a2 2 0 0 0-2-2zm0 2h10v10H3z" fill-rule="evenodd"/><path d="M5.500 4h5L8 6.800zM5.500 12h5L8 9.200zM4 5.500v5L6.800 8zM12 5.500v5L9.200 8z"/></svg>
<span id="t55" class="tx " style="left:1684.7px;top:325.7px;line-height:22px;font-size:17px;color:#c4c6cb;font-weight:normal;">CenterContainer</span>
<svg style="left:1880.7949999999998px;top:326.995px;width:18.01px;height:18.01px;color:#e0e0e0;" viewBox="0 0 16 16" fill="currentColor"><path d="M8 2C4.5 2 1.5 4.3.1 8c1.4 3.7 4.4 6 7.9 6s6.5-2.3 7.9-6C14.5 4.3 11.5 2 8 2zm0 2a4 4 0 1 1 0 8 4 4 0 0 1 0-8zm0 2a2 2 0 1 0 0 4 2 2 0 0 0 0-4z" fill-rule="evenodd"/></svg>
<div style="left:1660px;top:321px;width:216px;height:30px;border:1px solid #596073;"></div>
<div style="left:1621px;top:51px;width:282px;height:484px;border:4px solid #4caf50;"></div>
<div style="left:1622.5px;top:551px;width:109.5px;height:33px;background:#333b4f;"></div>
<div style="left:1622.5px;top:584px;width:286.5px;height:457px;background:#333b4f;"></div>
<span id="t56" class="tx " style="left:1640.5px;top:556.0px;line-height:22px;font-size:17px;color:#c4c6cb;font-weight:normal;">Inspector</span>
<span id="t57" class="tx " style="left:1751.7px;top:556.0px;line-height:22px;font-size:17px;color:#7f8490;font-weight:normal;">Node</span>
<svg style="left:1889.5px;top:551.0px;width:20px;height:20px;color:#6d7383;" viewBox="0 0 16 16" fill="currentColor"><circle cx="8" cy="2" r="1.700"/><circle cx="8" cy="8" r="1.700"/><circle cx="8" cy="14" r="1.700"/></svg>
<svg style="left:1633.0px;top:596.0px;width:20px;height:20px;color:#e0e0e0;" viewBox="0 0 16 16" fill="currentColor"><path d="M2 1v14h5v-1H5v-4h2V7h3l1 .5h1V5L8.500 1zm6.500 1l2.500 3H8.500z" fill-rule="evenodd"/><path d="M10 9v2H8v2h2v2h2v-2h2v-2h-2V9z" fill="#84ffb1"/></svg>
<svg style="left:1667.0px;top:596.0px;width:20px;height:20px;color:#e0e0e0;" viewBox="0 0 16 16" fill="currentColor"><path d="M1 3a1 1 0 0 1 1-1h4l1.500 2H12a1 1 0 0 1 1 1v1H4.500a1.500 1.500 0 0 0-1.400 1L1 13zM2 14l2.600-6.400a1 1 0 0 1 .9-.6H15.500l-2.600 6.400a1 1 0 0 1-.9.6z"/></svg>
<svg style="left:1702.0px;top:596.0px;width:20px;height:20px;color:#e0e0e0;opacity:0.35;" viewBox="0 0 16 16" fill="currentColor"><path d="M2 1a1 1 0 0 0-1 1v12a1 1 0 0 0 1 1h12a1 1 0 0 0 1-1V4l-3-3h-1v5H4V1zm3 0v4h2V1zm3 8a2 2 0 1 1 0 4 2 2 0 0 1 0-4z" fill-rule="evenodd"/></svg>
<svg style="left:1825.0px;top:596.0px;width:20px;height:20px;color:#e0e0e0;" viewBox="0 0 16 16" fill="currentColor"><path d="M10 1.500L6 8l4 6.500" fill="none" stroke="currentColor" stroke-width="2" stroke-linecap="round" stroke-linejoin="round"/></svg>
<svg style="left:1849.5px;top:596.0px;width:20px;height:20px;color:#5f6679;" viewBox="0 0 16 16" fill="currentColor"><path d="M6 1.500L10 8l-4 6.500" fill="none" stroke="currentColor" stroke-width="2" stroke-linecap="round" stroke-linejoin="round"/></svg>
<svg style="left:1880.45px;top:596.75px;width:18.5px;height:18.5px;color:#e0e0e0;" viewBox="0 0 16 16" fill="currentColor"><path d="M9 1.500A6.500 6.500 0 0 0 2.500 8H0l3.500 4L7 8H4.500A4.500 4.500 0 1 1 5.800 11.200l-1.400 1.400A6.500 6.500 0 1 0 9 1.500zM8 4.500V9h4V7.500H9.500v-3z" fill-rule="evenodd"/></svg>
<svg style="left:1632.5px;top:632.0px;width:20px;height:20px;color:#a5efac;" viewBox="0 0 16 16" fill="currentColor"><path d="M3 1a2 2 0 0 0-2 2v10a2 2 0 0 0 2 2h10a2 2 0 0 0 2-2V3a2 2 0 0 0-2-2zm0 2h10v10H3z" fill-rule="evenodd"/><path d="M5.500 4h5L8 6.800zM5.500 12h5L8 9.200zM4 5.500v5L6.800 8zM12 5.500v5L9.200 8z"/></svg>
<span id="t58" class="tx " style="left:1656.7px;top:631.7px;line-height:22px;font-size:17px;color:#e3e4e7;font-weight:normal;">CenterContainer</span>
<svg style="left:1844.0px;top:632.0px;width:20px;height:20px;color:#e0e0e0;" viewBox="0 0 16 16" fill="currentColor"><path d="M6 1a5 5 0 1 0 2.75 9.17L13.6 15 15 13.6l-4.83-4.85A5 5 0 0 0 6 1zm0 2a3 3 0 1 1 0 6 3 3 0 0 1 0-6z" fill-rule="evenodd"/></svg>
<svg style="left:1879.0px;top:632.0px;width:20px;height:20px;color:#e0e0e0;" viewBox="0 0 16 16" fill="currentColor"><path d="M4 1v7.200A2.600 2.600 0 0 0 2.400 10.600V14a1 1 0 0 0 1 1h2.200a1 1 0 0 0 1-1v-3.400A2.600 2.600 0 0 0 5.600 8.200V1zM9 1.100A3.500 3.500 0 0 0 11 7.400V15h2V7.400A3.500 3.500 0 0 0 15 1.100V5h-2V1h-2v4H9z"/></svg>
<div style="left:1627.5px;top:663px;width:274.5px;height:370px;background:#262c3b;border:1px solid #222736;"></div>
<span id="t59" class="tx " style="left:1659.2px;top:660.7px;line-height:22px;font-size:17px;color:#c4c6cb;font-weight:normal;">Use Top Left</span>
<svg style="left:1796.0px;top:662.5px;width:17px;height:17px;color:#e0e0e0;" viewBox="0 0 16 16" fill="currentColor"><rect x="2" y="2" width="12" height="12" rx="1.5" fill="none" stroke="currentColor" stroke-width="2"/></svg>
<span id="t60" class="tx " style="left:1819.2px;top:660.7px;line-height:22px;font-size:17px;color:#c4c6cb;font-weight:normal;">On</span>
<div style="left:1629px;top:717.9px;width:258px;height:31.2px;background:#333b4f;"></div>
<svg style="left:1630.0px;top:726.5px;width:14px;height:14px;color:#b0b3ba;" viewBox="0 0 16 16" fill="currentColor"><path d="M5.500 3.500L10 8l-4.500 4.500" fill="none" stroke="currentColor" stroke-width="2"/></svg>
<span id="t61" class="tx " style="left:1644.7px;top:723.2px;line-height:22px;font-size:17px;color:#c4c6cb;font-weight:normal;">Anchor</span>
<div style="left:1629px;top:749.4px;width:258px;height:31.2px;background:#333b4f;"></div>
<svg style="left:1630.0px;top:758.0px;width:14px;height:14px;color:#b0b3ba;" viewBox="0 0 16 16" fill="currentColor"><path d="M5.500 3.500L10 8l-4.500 4.500" fill="none" stroke="currentColor" stroke-width="2"/></svg>
<span id="t62" class="tx " style="left:1644.7px;top:754.7px;line-height:22px;font-size:17px;color:#c4c6cb;font-weight:normal;">Margin</span>
<div style="left:1629px;top:780.4px;width:258px;height:31.2px;background:#333b4f;"></div>
<svg style="left:1630.0px;top:789.0px;width:14px;height:14px;color:#b0b3ba;" viewBox="0 0 16 16" fill="currentColor"><path d="M5.500 3.500L10 8l-4.500 4.500" fill="none" stroke="currentColor" stroke-width="2"/></svg>
<span id="t63" class="tx " style="left:1644.7px;top:785.7px;line-height:22px;font-size:17px;color:#c4c6cb;font-weight:normal;">Grow Direction</span>
<div style="left:1629px;top:811.6999999999999px;width:258px;height:31.2px;background:#333b4f;"></div>
<svg style="left:1630.0px;top:820.3px;width:14px;height:14px;color:#b0b3ba;" viewBox="0 0 16 16" fill="currentColor"><path d="M3.500 6L8 10.500 12.500 6" fill="none" stroke="currentColor" stroke-width="2"/></svg>
<span id="t64" class="tx " style="left:1644.7px;top:817.0px;line-height:22px;font-size:17px;color:#c4c6cb;font-weight:normal;">Rect</span>
<div style="left:1632px;top:687px;width:252px;height:31px;background:#414859;"></div>
<svg style="left:1711.0px;top:692.5px;width:20px;height:20px;color:#a5efac;" viewBox="0 0 16 16" fill="currentColor"><circle cx="8" cy="8" r="5" fill="none" stroke="currentColor" stroke-width="2"/></svg>
<span id="t65" class="tx " style="left:1735.7px;top:692.2px;line-height:22px;font-size:17px;color:#c4c6cb;font-weight:normal;">Control</span>
<div style="left:1628px;top:683px;width:252px;height:31px;border:4px solid #ffeb3b;"></div>
<div style="left:1628px;top:751px;width:252px;height:22px;border:4px solid #ff9800;"></div>
<span id="t66" class="tx " style="left:1660.2px;top:848.5px;line-height:22px;font-size:17px;color:#c4c6cb;font-weight:normal;">Position</span>
<span id="t67" class="tx " style="left:1794.2px;top:848.5px;line-height:22px;font-size:17px;color:#c4c6cb;font-weight:normal;">(0, 0)</span>
<svg style="left:1873.5px;top:850.8px;width:16px;height:16px;color:#e0e0e0;" viewBox="0 0 16 16" fill="currentColor"><circle cx="8" cy="2" r="1.700"/><circle cx="8" cy="8" r="1.700"/><circle cx="8" cy="14" r="1.700"/></svg>
<span id="t68" class="tx " style="left:1660.2px;top:879.7px;line-height:22px;font-size:17px;color:#c4c6cb;font-weight:normal;">Size</span>
<span id="t69" class="tx " style="left:1794.2px;top:879.7px;line-height:22px;font-size:17px;color:#c4c6cb;font-weight:normal;">(40, 40)</span>
<svg style="left:1873.5px;top:882.0px;width:16px;height:16px;color:#e0e0e0;" viewBox="0 0 16 16" fill="currentColor"><circle cx="8" cy="2" r="1.700"/><circle cx="8" cy="8" r="1.700"/><circle cx="8" cy="14" r="1.700"/></svg>
<div style="left:1661px;top:905.6px;width:128px;height:0px;border-top:1px dotted #30364a;"></div>
<div style="left:1791px;top:905.6px;width:96px;height:0px;border-top:1px dotted #30364a;"></div>
<span id="t70" class="tx " style="left:1660.2px;top:910.9px;line-height:22px;font-size:17px;color:#c4c6cb;font-weight:normal;">Min Size</span>
<span id="t71" class="tx " style="left:1794.2px;top:910.9px;line-height:22px;font-size:17px;color:#c4c6cb;font-weight:normal;">(0, 0)</span>
<svg style="left:1873.5px;top:913.1999999999999px;width:16px;height:16px;color:#e0e0e0;" viewBox="0 0 16 16" fill="currentColor"><circle cx="8" cy="2" r="1.700"/><circle cx="8" cy="8" r="1.700"/><circle cx="8" cy="14" r="1.700"/></svg>
<div style="left:1661px;top:936.8px;width:128px;height:0px;border-top:1px dotted #30364a;"></div>
<div style="left:1791px;top:936.8px;width:96px;height:0px;border-top:1px dotted #30364a;"></div>
<span id="t72" class="tx " style="left:1660.2px;top:942.1px;line-height:22px;font-size:17px;color:#c4c6cb;font-weight:normal;">Rotation</span>
<span id="t73" class="tx " style="left:1794.2px;top:942.1px;line-height:22px;font-size:17px;color:#c4c6cb;font-weight:normal;">0</span>
<svg style="left:1872.5px;top:943.4px;width:18px;height:18px;color:#e0e0e0;" viewBox="0 0 16 16" fill="currentColor"><path d="M4 6.500L8 2.500l4 4M4 9.500l4 4 4-4" fill="none" stroke="currentColor" stroke-width="2"/></svg>
<div style="left:1661px;top:968.0px;width:128px;height:0px;border-top:1px dotted #30364a;"></div>
<div style="left:1791px;top:968.0px;width:96px;height:0px;border-top:1px dotted #30364a;"></div>
<span id="t74" class="tx " style="left:1660.2px;top:973.3px;line-height:22px;font-size:17px;color:#c4c6cb;font-weight:normal;">Scale</span>
<span id="t75" class="tx " style="left:1794.2px;top:973.3px;line-height:22px;font-size:17px;color:#c4c6cb;font-weight:normal;">(1, 1)</span>
<svg style="left:1873.5px;top:975.5999999999999px;width:16px;height:16px;color:#e0e0e0;" viewBox="0 0 16 16" fill="currentColor"><circle cx="8" cy="2" r="1.700"/><circle cx="8" cy="8" r="1.700"/><circle cx="8" cy="14" r="1.700"/></svg>
<div style="left:1661px;top:999.1999999999999px;width:128px;height:0px;border-top:1px dotted #30364a;"></div>
<div style="left:1791px;top:999.1999999999999px;width:96px;height:0px;border-top:1px dotted #30364a;"></div>
<span id="t76" class="tx " style="left:1660.2px;top:1004.5px;line-height:22px;font-size:17px;color:#c4c6cb;font-weight:normal;">Pivot Offset</span>
<span id="t77" class="tx " style="left:1794.2px;top:1004.5px;line-height:22px;font-size:17px;color:#c4c6cb;font-weight:normal;">(0, 0)</span>
<svg style="left:1873.5px;top:1006.8px;width:16px;height:16px;color:#e0e0e0;" viewBox="0 0 16 16" fill="currentColor"><circle cx="8" cy="2" r="1.700"/><circle cx="8" cy="8" r="1.700"/><circle cx="8" cy="14" r="1.700"/></svg>
<div style="left:1661px;top:1030.3999999999999px;width:128px;height:0px;border-top:1px dotted #30364a;"></div>
<div style="left:1791px;top:1030.3999999999999px;width:96px;height:0px;border-top:1px dotted #30364a;"></div>
<div style="left:1628px;top:842px;width:252px;height:26px;border:4px solid #ff5722;"></div>
<div style="left:1895px;top:694px;width:5px;height:158px;background:#6a6f7c;border-radius:2px;"></div>
</body></html>
